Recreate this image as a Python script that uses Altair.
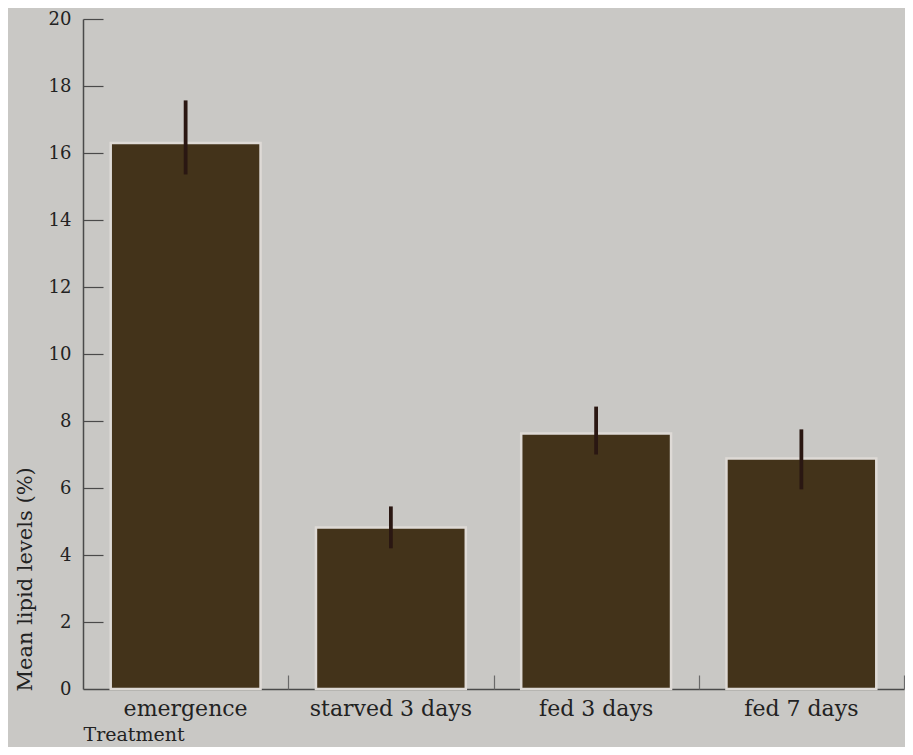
import altair as alt
import pandas as pd

treatments = ["emergence", "starved 3 days", "fed 3 days", "fed 7 days"]
mean_lipid = [16.3, 4.82, 7.63, 6.88]
err_low = [15.36, 4.2, 7.0, 5.96]
err_high = [17.57, 5.45, 8.43, 7.75]
y_ticks = [0, 2, 4, 6, 8, 10, 12, 14, 16, 18, 20]

df = pd.DataFrame({"treatment": treatments, "mean": mean_lipid,
                   "low": err_low, "high": err_high})

W, H = 821, 670
STEP = W / len(treatments)
FONT = "DejaVu Serif"
AX = "#4a4a4a"

xscale = alt.Scale(domain=treatments, paddingInner=0.27, paddingOuter=0.135)
yscale = alt.Scale(domain=[0, 20], nice=False)

bars = alt.Chart(df).mark_bar(
    color="#43331a", stroke="#dedad6", strokeWidth=2.5
).encode(
    x=alt.X("treatment:N", sort=treatments, scale=xscale,
            axis=alt.Axis(orient="bottom", title="Treatment", ticks=False,
                          domainColor=AX, domainWidth=1.5, labelAngle=0,
                          labelFont=FONT, labelFontSize=22, labelColor="#222",
                          labelPadding=19, labelBaseline="middle",
                          titleFont=FONT, titleFontSize=19, titleFontWeight="normal",
                          titleColor="#222", titleAnchor="start", titleAlign="left",
                          titleX=0, titleY=55, titleBaseline="bottom")),
    y=alt.Y("mean:Q", scale=yscale,
            axis=alt.Axis(orient="left", title="Mean lipid levels (%)", values=y_ticks,
                          ticks=False, grid=False, domainColor=AX, domainWidth=1.5,
                          labelFont=FONT, labelFontSize=18, labelColor="#222",
                          labelPadding=12,
                          titleFont=FONT, titleFontSize=21, titleFontWeight="normal",
                          titleColor="#222", titleAngle=270, titleAlign="left",
                          titleBaseline="middle", titleX=-58, titleY=H + 2)),
)

errs = alt.Chart(df).mark_rule(color="#2a1712", strokeWidth=3.8).encode(
    x=alt.X("treatment:N", sort=treatments, scale=xscale,
            axis=alt.Axis(orient="top", offset=-H, title=None, labels=False,
                          domain=False, ticks=True, tickOffset=STEP / 2, tickSize=14,
                          tickColor="#6a6a6a", tickWidth=1.2, zindex=1)),
    y=alt.Y("low:Q", scale=yscale,
            axis=alt.Axis(orient="right", offset=-W, title=None, labels=False,
                          domain=False, grid=False, values=y_ticks[1:], tickSize=20,
                          tickColor=AX, tickWidth=1.2)),
    y2="high:Q",
)

chart = alt.layer(bars, errs).resolve_axis(x="independent", y="independent").properties(
    width=W, height=H,
    background="#c9c8c5",
    autosize=alt.AutoSizeParams(type="none"),
    padding={"left": 75, "top": 11, "right": 1, "bottom": 58},
).configure_view(stroke=None)

chart.save("out.html", embed_options={"renderer": "svg", "actions": False})
